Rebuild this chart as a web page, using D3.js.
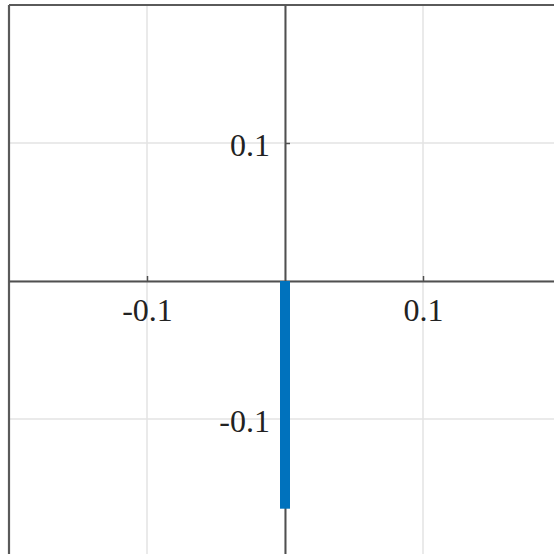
<!DOCTYPE html>
<html>
<head>
<meta charset="utf-8">
<script src="https://cdn.jsdelivr.net/npm/d3@7"></script>
<style>
  html, body { margin: 0; padding: 0; background: #fff; }
  svg { display: block; }
</style>
</head>
<body>
<script>
// Bar positions and their values
const barX = [0];
const barValues = [-0.165];
// Tick positions and their labels
const xTicks = [-0.1, 0.1];
const xTickLabels = ["-0.1", "0.1"];
const yTicks = [0.1, -0.1];
const yTickLabels = ["0.1", "-0.1"];
const gridValues = [-0.1, 0, 0.1];
const domainX = [-0.2, 0.2];
const domainY = [-0.2, 0.2];

const W = 554, H = 554;
const svg = d3.select("body").append("svg").attr("width", W).attr("height", H);

const x = d3.scaleLinear().domain(domainX).range([9, 561]);
const y = d3.scaleLinear().domain(domainY).range([557, 5]);

// grid
const grid = svg.append("g").attr("stroke", "#e3e3e3").attr("stroke-width", 1.5);
grid.selectAll("line.gx").data(gridValues).join("line")
  .attr("x1", d => x(d)).attr("x2", d => x(d))
  .attr("y1", y(domainY[1])).attr("y2", y(domainY[0]));
grid.selectAll("line.gy").data(gridValues).join("line")
  .attr("y1", d => y(d)).attr("y2", d => y(d))
  .attr("x1", x(domainX[0])).attr("x2", x(domainX[1]));

// outer box (left and top edges visible)
const boxColor = "#5a5a5a";
svg.append("line").attr("x1", x(domainX[0])).attr("x2", x(domainX[0]))
  .attr("y1", y(domainY[1])).attr("y2", y(domainY[0]))
  .attr("stroke", boxColor).attr("stroke-width", 2.2);
svg.append("line").attr("x1", x(domainX[0])).attr("x2", x(domainX[1]))
  .attr("y1", y(domainY[1])).attr("y2", y(domainY[1]))
  .attr("stroke", boxColor).attr("stroke-width", 2.2);

// axes through origin
const axisColor = "#505050";
const xAxis = d3.axisBottom(x).tickValues(xTicks)
  .tickFormat((d, i) => xTickLabels[i]).tickSize(-5).tickSizeOuter(0).tickPadding(15);
const yAxis = d3.axisLeft(y).tickValues(yTicks)
  .tickFormat((d, i) => yTickLabels[i]).tickSize(-5).tickSizeOuter(0).tickPadding(15);

const gx = svg.append("g").attr("transform", `translate(0,${y(0)})`).call(xAxis);
const gy = svg.append("g").attr("transform", `translate(${x(0)},0)`).call(yAxis);

[gx, gy].forEach(g => {
  g.select(".domain").attr("stroke", axisColor).attr("stroke-width", 2);
  g.selectAll(".tick line").attr("stroke", axisColor).attr("stroke-width", 1.5);
  g.selectAll(".tick text")
    .attr("fill", "#222")
    .style("font-family", "'Liberation Serif', 'Times New Roman', serif")
    .style("font-size", "32px");
});
gx.selectAll(".tick text").attr("dy", "0.78em");
gy.selectAll(".tick text").attr("dy", "0.4em");

// bars
svg.append("g").selectAll("rect").data(barX).join("rect")
  .attr("x", d => x(d) - 5)
  .attr("width", 10)
  .attr("y", (d, i) => y(Math.max(0, barValues[i])))
  .attr("height", (d, i) => Math.abs(y(barValues[i]) - y(0)))
  .attr("fill", "#0072BD");
</script>
</body>
</html>
